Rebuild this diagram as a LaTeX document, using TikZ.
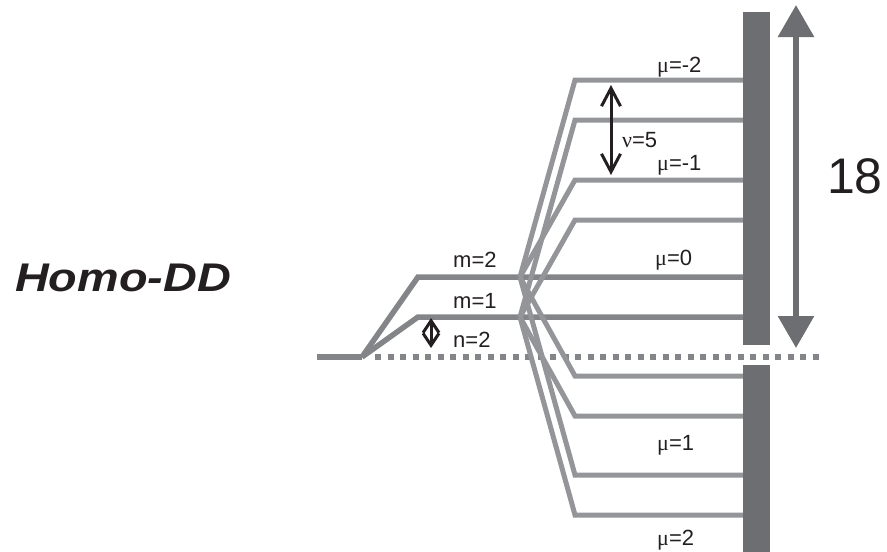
\documentclass[tikz,border=0pt]{standalone}
\usepackage{fontspec}
\setmainfont{Liberation Sans}
\newfontfamily\greekfont{Liberation Serif}
\usetikzlibrary{arrows.meta}

\definecolor{levelgray}{HTML}{939598}
\definecolor{stemgray}{HTML}{838588}
\definecolor{bargray}{HTML}{6D6E71}
\definecolor{inkblack}{HTML}{231F20}

\begin{document}
\begin{tikzpicture}[x=1pt,y=-1pt,
  stem/.style={draw=stemgray,line width=5.5pt,line join=miter},
  branch/.style={draw=levelgray,line width=5pt,line join=miter},
  dotrow/.style={draw=stemgray,line width=6pt,dash pattern=on 6pt off 6.5pt},
  gaparrow/.style 2 args={draw=inkblack,line width=3pt,
    {Straight Barb[length=#1,width=#2,line join=miter]}-{Straight Barb[length=#1,width=#2,line join=miter]}},
  spanarrow/.style={draw=bargray,line width=6pt,
    {Triangle[length=32pt,width=35pt]}-{Triangle[length=32pt,width=35pt]}},
  lbl/.style={anchor=base west,inner sep=0pt,text=inkblack,font=\fontsize{22}{26}\selectfont},
]
\useasboundingbox (0,0) rectangle (887,552);

% ground level and the two excited levels m=1, m=2
\coordinate (stubL) at (317,357);
\coordinate (split) at (362,357);
\coordinate (m2c) at (418,277);
\coordinate (m1c) at (418,317);
\coordinate (m2b) at (520,277);
\coordinate (m1b) at (520,317);
\coordinate (m2end) at (743,277);
\coordinate (m1end) at (743,317);

\draw[stem] (stubL) -- (split);
\draw[stem] (split) -- (m2c) -- (m2end);
\draw[stem] (split) -- (m1c) -- (m1end);

% dotted reference line
\coordinate (dotL) at (375,357);
\coordinate (dotR) at (822,357);
\draw[dotrow] (dotL) -- (dotR);

% split levels mu = -2 ... 2
\foreach \name/\src/\yy in {a/m2b/80, b/m1b/120, c/m2b/180, d/m1b/220,
                            e/m2b/376, f/m1b/416, g/m2b/475, h/m1b/515} {
  \coordinate (corner-\name) at (575,\yy);
  \coordinate (end-\name) at (743,\yy);
  \draw[branch] (\src) -- (corner-\name) -- (end-\name);
}

% vertical bar
\fill[bargray] (743,12) rectangle (770,345);
\fill[bargray] (743,365) rectangle (770,552);

% total span arrow
\coordinate (spanT) at (796,5);
\coordinate (spanB) at (796,348);
\draw[spanarrow] (spanT) -- (spanB);
\node[anchor=base,inner sep=0pt,text=inkblack,font=\fontsize{50}{60}\selectfont] (span) at (855,193) {18};

% gap arrows
\coordinate (nT) at (431,318);
\coordinate (nB) at (431,348);
\draw[gaparrow={12pt}{16pt}] (nT) -- (nB);
\coordinate (vT) at (611,85);
\coordinate (vB) at (611,175);
\draw[gaparrow={18pt}{19pt}] (vT) -- (vB);

% labels
\node[lbl] (lm2) at (453,267) {m=2};
\node[lbl] (lm1) at (453,308) {m=1};
\node[lbl] (ln) at (453,347) {n=2};
\node[lbl] (lv) at (622,147) {{\greekfont ν}=5};
\node[lbl] (lmu-2) at (657,72) {{\greekfont μ}=-2};
\node[lbl] (lmu-1) at (657,170) {{\greekfont μ}=-1};
\node[lbl] (lmu0) at (655,265) {{\greekfont μ}=0};
\node[lbl] (lmu1) at (657,450) {{\greekfont μ}=1};
\node[lbl] (lmu2) at (657,545) {{\greekfont μ}=2};

\node[anchor=base west,inner sep=0pt,text=inkblack,
      font=\bfseries\itshape\fontsize{40}{48}\selectfont] (title) at (15,291)
      {\scalebox{1.17}[1]{Homo-DD}};
\end{tikzpicture}
\end{document}
